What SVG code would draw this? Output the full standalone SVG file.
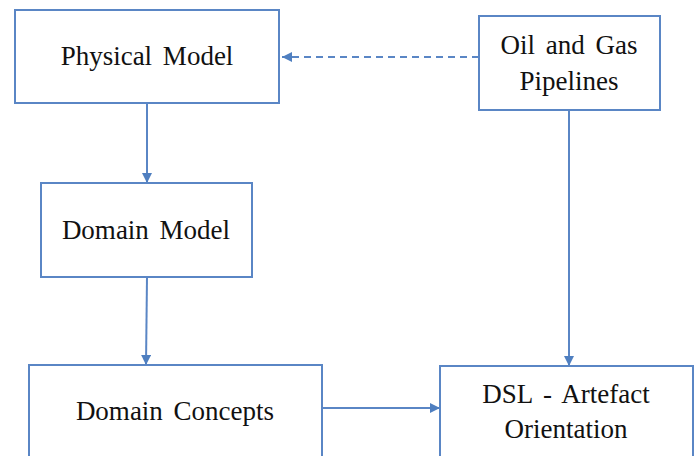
<svg xmlns="http://www.w3.org/2000/svg" width="698" height="456" viewBox="0 0 698 456">
<style>
.box{fill:#fff;stroke:#5a86c5;stroke-width:2}
.t{font-family:"Liberation Serif","Times New Roman",serif;font-size:27px;fill:#111;text-anchor:middle;word-spacing:4px}
.c{stroke:#5a86c5;stroke-width:2;fill:none}
</style>
<defs>
<marker id="ah" viewBox="0 0 10 10" refX="10" refY="5" markerWidth="5" markerHeight="5" orient="auto" markerUnits="strokeWidth">
<path d="M0,0 L10,5 L0,10 z" fill="#4f7fc0"/>
</marker>
</defs>
<g id="connectors">
<path class="c" d="M479,57 L282,57" stroke-dasharray="7,5" marker-end="url(#ah)"/>
<path class="c" d="M147,103 L147,183" marker-end="url(#ah)"/>
<path class="c" d="M147,277 L146,365" marker-end="url(#ah)"/>
<path class="c" d="M322,408 L440,408" marker-end="url(#ah)"/>
<path class="c" d="M569,110 L569,366" marker-end="url(#ah)"/>
</g>
<g id="physical-model">
<rect class="box" x="15" y="10" width="264" height="93"/>
<text class="t" x="147" y="65">Physical Model</text>
</g>
<g id="oil-gas">
<rect class="box" x="479" y="16" width="181" height="94"/>
<text class="t" x="569" y="54">Oil and Gas</text>
<text class="t" x="569" y="90">Pipelines</text>
</g>
<g id="domain-model">
<rect class="box" x="41" y="183" width="211" height="94"/>
<text class="t" x="146" y="239">Domain Model</text>
</g>
<g id="domain-concepts">
<rect class="box" x="29" y="365" width="293" height="110"/>
<text class="t" x="175" y="420">Domain Concepts</text>
</g>
<g id="dsl">
<rect class="box" x="440" y="366" width="253" height="110"/>
<text class="t" x="566" y="403">DSL - Artefact</text>
<text class="t" x="566" y="438">Orientation</text>
</g>
</svg>
